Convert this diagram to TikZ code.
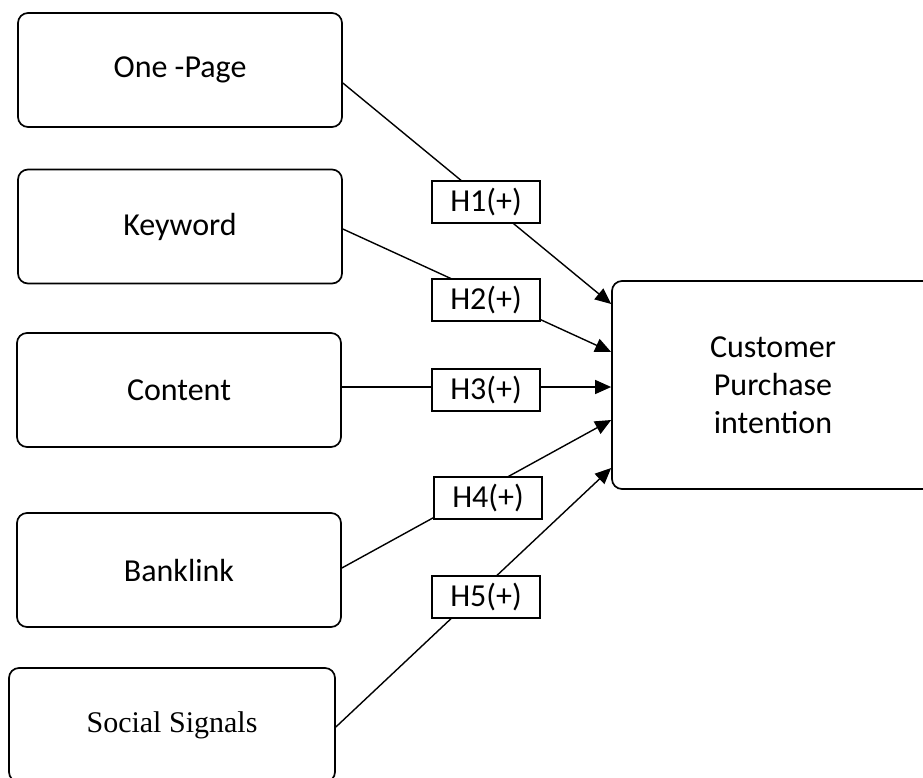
\documentclass[tikz,border=0pt]{standalone}
\usepackage{fontspec}
\setmainfont{Carlito}
\newfontfamily\timesfont{Liberation Serif}
\usetikzlibrary{arrows.meta}
\tikzset{
  factor/.style={draw, line width=0.85pt, rounded corners=5pt, minimum width=162pt, minimum height=57pt, font=\fontsize{16}{19}\selectfont},
  hyp/.style={draw, fill=white, line width=0.75pt, minimum width=54pt, minimum height=21pt, inner sep=0pt, font=\fontsize{16}{19}\selectfont},
  link/.style={line width=0.7pt, -{Triangle[length=8pt,width=7pt]}}
}
\begin{document}
\begin{tikzpicture}[x=0.5pt, y=-0.5pt]
\useasboundingbox (0,0) rectangle (923,778);
\node[factor]  at (180, 70) (op) {One -Page};
\node[factor]  at (180, 226.5) (kw) {Keyword};
\node[factor]  at (179, 390) (ct) {Content};
\node[factor]  at (179, 570) (bl) {Banklink};
\node[factor, minimum width=163pt, font=\timesfont\fontsize{15}{18}\selectfont]  at (172, 725) (ss) {Social Signals};
\node[factor, minimum width=161pt, minimum height=104pt, align=center]  at (773, 385) (cpi) {Customer\\Purchase\\intention};
\draw[link] (op.east |- 0,83) -- (cpi.west |- 0,304);
\draw[link] (kw.east |- 0,229) -- (cpi.west |- 0,352);
\draw[link] (ct.east |- 0,387) -- (cpi.west |- 0,387);
\draw[link] (bl.east |- 0,568) -- (cpi.west |- 0,420);
\draw[link] (ss.east |- 0,727) -- (cpi.west |- 0,468);
\node[hyp]  at (486, 202) (h1) {H1(+)};
\node[hyp]  at (486, 300) (h2) {H2(+)};
\node[hyp]  at (486, 390) (h3) {H3(+)};
\node[hyp]  at (488, 498) (h4) {H4(+)};
\node[hyp]  at (486, 597) (h5) {H5(+)};
\end{tikzpicture}
\end{document}
